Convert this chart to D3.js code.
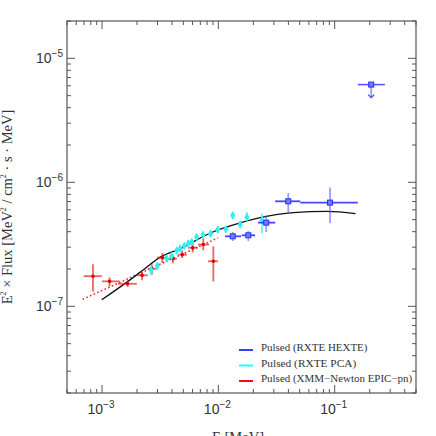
<!DOCTYPE html>
<html>
<head>
<meta charset="utf-8">
<script src="https://cdn.jsdelivr.net/npm/d3@7"></script>
<style>
  body { margin: 0; background: #fff; }
  svg { display: block; }
  .lbl { font-family: "Liberation Sans", Arial, sans-serif; fill: #333; }
  .ttl { font-family: "Liberation Serif", "DejaVu Serif", serif; fill: #333; }
</style>
</head>
<body>
<svg id="svg1" width="436" height="436"></svg>
<script>
// XMM-Newton EPIC-pn (red)
var redE   = [8.36e-4, 1.16e-3, 1.66e-3, 2.21e-3, 2.68e-3, 3.30e-3, 4.07e-3, 4.89e-3, 6.02e-3, 7.42e-3, 9.06e-3];
var redElo = [6.95e-4, 1.00e-3, 1.37e-3, 1.99e-3, 2.48e-3, 2.96e-3, 3.68e-3, 4.49e-3, 5.48e-3, 6.68e-3, 8.15e-3];
var redEhi = [9.94e-4, 1.42e-3, 1.99e-3, 2.48e-3, 2.96e-3, 3.61e-3, 4.40e-3, 5.37e-3, 6.68e-3, 8.32e-3, 9.94e-3];
var redF   = [1.75e-7, 1.59e-7, 1.52e-7, 1.78e-7, 2.01e-7, 2.47e-7, 2.42e-7, 2.61e-7, 2.97e-7, 3.15e-7, 2.31e-7];
var redFlo = [1.32e-7, 1.45e-7, 1.43e-7, 1.62e-7, 1.80e-7, 2.24e-7, 2.23e-7, 2.45e-7, 2.73e-7, 2.83e-7, 1.59e-7];
var redFhi = [2.18e-7, 1.71e-7, 1.62e-7, 1.88e-7, 2.18e-7, 2.69e-7, 2.59e-7, 2.83e-7, 3.22e-7, 3.53e-7, 3.05e-7];

// RXTE PCA (cyan)
var cyanE   = [2.65e-3, 2.99e-3, 3.59e-3, 3.96e-3, 4.38e-3, 4.68e-3, 5.09e-3, 5.51e-3, 5.90e-3, 6.51e-3, 7.38e-3, 8.57e-3, 9.88e-3, 1.16e-2, 1.33e-2, 1.54e-2, 1.76e-2, 2.37e-2];
var cyanF   = [1.95e-7, 2.12e-7, 2.43e-7, 2.55e-7, 2.81e-7, 2.92e-7, 3.07e-7, 3.21e-7, 3.30e-7, 3.62e-7, 3.77e-7, 3.86e-7, 4.16e-7, 4.18e-7, 5.42e-7, 4.58e-7, 5.25e-7, 4.94e-7];
var cyanFlo = [1.78e-7, 2.00e-7, 2.30e-7, 2.41e-7, 2.66e-7, 2.76e-7, 2.90e-7, 3.04e-7, 3.12e-7, 3.42e-7, 3.56e-7, 3.65e-7, 3.93e-7, 3.95e-7, 5.10e-7, 4.30e-7, 4.79e-7, 3.88e-7];
var cyanFhi = [2.14e-7, 2.25e-7, 2.57e-7, 2.70e-7, 2.97e-7, 3.09e-7, 3.25e-7, 3.40e-7, 3.49e-7, 3.83e-7, 3.99e-7, 4.08e-7, 4.40e-7, 4.42e-7, 5.75e-7, 4.86e-7, 5.76e-7, 5.62e-7];

// RXTE HEXTE (blue)
var blueE   = [1.33e-2, 1.81e-2, 2.58e-2, 3.99e-2, 9.12e-2];
var blueElo = [1.14e-2, 1.59e-2, 2.19e-2, 3.08e-2, 5.06e-2];
var blueEhi = [1.57e-2, 2.07e-2, 3.08e-2, 5.06e-2, 0.158];
var blueF   = [3.67e-7, 3.74e-7, 4.73e-7, 7.03e-7, 6.86e-7];
var blueFlo = [3.36e-7, 3.36e-7, 3.97e-7, 5.76e-7, 4.70e-7];
var blueFhi = [3.97e-7, 4.05e-7, 5.42e-7, 8.20e-7, 9.07e-7];
// HEXTE upper limit
var ulE = [0.206], ulElo = [0.158], ulEhi = [0.270], ulF = [6.14e-6];

// model curves
var curveE = [9.94e-4, 1.67e-3, 2.33e-3, 3.14e-3, 4.68e-3, 8.65e-3, 1.54e-2, 2.29e-2, 4.41e-2, 8.65e-2, 0.151];
var curveF = [1.13e-7, 1.59e-7, 2.01e-7, 2.48e-7, 2.91e-7, 3.92e-7, 4.71e-7, 5.19e-7, 5.70e-7, 5.83e-7, 5.60e-7];
var dotE = [6.82e-4, 9.94e-3];
var dotF = [1.14e-7, 3.56e-7];

var xTicks = [1e-3, 1e-2, 1e-1];
var yTicks = [1e-7, 1e-6, 1e-5];
var legendNames = ["Pulsed (RXTE HEXTE)", "Pulsed (RXTE PCA)", "Pulsed (XMM\u2212Newton EPIC\u2212pn)"];
var legendColors = ["#3344ff", "#22ffff", "#ee1111"];

var plotL = 67, plotR = 416, plotT = 21, plotB = 393;

var svg = d3.select('svg');

var x = d3.scaleLog().domain([5e-4, 0.5]).range([plotL, plotR]);
var y = d3.scaleLog().domain([2e-8, 2e-5]).range([plotB, plotT]);

var axisColor = '#555';

// ticks on all four sides, pointing inward
function tickList(scale) {
  var d = scale.domain(), out = [];
  scale.ticks().forEach(function(t){ if (t >= d[0] && t <= d[1]) out.push(t); });
  return out;
}
var xAll = tickList(x), yAll = tickList(y);
function isMajor(t) { return Math.abs(Math.log10(t) - Math.round(Math.log10(t))) < 1e-6; }

var g = svg.append('g');
xAll.forEach(function(t){
  var len = isMajor(t) ? 8 : 4;
  g.append('line').attr('x1', x(t)).attr('x2', x(t)).attr('y1', plotB).attr('y2', plotB - len)
    .attr('stroke', axisColor).attr('stroke-width', 1);
  g.append('line').attr('x1', x(t)).attr('x2', x(t)).attr('y1', plotT).attr('y2', plotT + len)
    .attr('stroke', axisColor).attr('stroke-width', 1);
});
yAll.forEach(function(t){
  var len = isMajor(t) ? 8 : 4;
  g.append('line').attr('y1', y(t)).attr('y2', y(t)).attr('x1', plotL).attr('x2', plotL + len)
    .attr('stroke', axisColor).attr('stroke-width', 1);
  g.append('line').attr('y1', y(t)).attr('y2', y(t)).attr('x1', plotR).attr('x2', plotR - len)
    .attr('stroke', axisColor).attr('stroke-width', 1);
});
g.append('rect').attr('x', plotL).attr('y', plotT).attr('width', plotR - plotL).attr('height', plotB - plotT)
  .attr('fill', 'none').attr('stroke', axisColor).attr('stroke-width', 1.2);

// tick labels 10^n
xTicks.forEach(function(t){
  var txt = svg.append('text').attr('class', 'lbl').attr('x', x(t) - 1).attr('y', 414)
    .attr('text-anchor', 'middle').attr('font-size', 14);
  txt.append('tspan').text('10');
  txt.append('tspan').attr('dy', -6).attr('font-size', 10).text('\u2212' + Math.round(-Math.log10(t)));
});
yTicks.forEach(function(t){
  var txt = svg.append('text').attr('class', 'lbl').attr('x', 63).attr('y', y(t) + 5)
    .attr('text-anchor', 'end').attr('font-size', 14);
  txt.append('tspan').text('10');
  txt.append('tspan').attr('dy', -6).attr('font-size', 10).text('\u2212' + Math.round(-Math.log10(t)));
});

// axis titles
var yt = svg.append('text').attr('class', 'ttl').attr('font-size', 14.5)
  .attr('text-anchor', 'middle')
  .attr('transform', 'translate(12,207) rotate(-90)');
yt.append('tspan').text('E');
yt.append('tspan').attr('dy', -6).attr('font-size', 8).text('2');
yt.append('tspan').attr('dy', 6).text(' \u00d7 Flux [MeV');
yt.append('tspan').attr('dy', -6).attr('font-size', 8).text('2');
yt.append('tspan').attr('dy', 6).text(' / cm');
yt.append('tspan').attr('dy', -6).attr('font-size', 8).text('2');
yt.append('tspan').attr('dy', 6).text(' \u00b7 s \u00b7 MeV]');

svg.append('text').attr('class', 'ttl').attr('font-size', 14.5).attr('x', 238).attr('y', 442)
  .attr('text-anchor', 'middle').text('E [MeV]');

// model lines
var line = d3.line()
  .x(function(d){ return x(d[0]); })
  .y(function(d){ return y(d[1]); })
  .curve(d3.curveMonotoneX);

svg.append('path')
  .datum(dotE.map(function(e, i){ return [e, dotF[i]]; }))
  .attr('d', line).attr('fill', 'none')
  .attr('stroke', '#ee2222').attr('stroke-width', 1.6)
  .attr('stroke-dasharray', '1.5,2.5');

svg.append('path')
  .datum(curveE.map(function(e, i){ return [e, curveF[i]]; }))
  .attr('d', line).attr('fill', 'none')
  .attr('stroke', '#111').attr('stroke-width', 1.3);

// error bar helper
function drawSeries(E, Elo, Ehi, F, Flo, Fhi, barColor, vColor) {
  var s = svg.append('g');
  E.forEach(function(e, i){
    if (Elo) {
      s.append('line').attr('x1', x(Elo[i])).attr('x2', x(Ehi[i])).attr('y1', y(F[i])).attr('y2', y(F[i]))
        .attr('stroke', barColor).attr('stroke-width', 1.8);
    }
    s.append('line').attr('x1', x(e)).attr('x2', x(e)).attr('y1', y(Flo[i])).attr('y2', y(Fhi[i]))
      .attr('stroke', vColor || barColor).attr('stroke-width', 1.8);
  });
  return s;
}

// XMM
var rs = drawSeries(redE, redElo, redEhi, redF, redFlo, redFhi, 'rgba(238,30,30,0.7)');
rs.selectAll('circle.pt').data(redE).enter().append('circle')
  .attr('cx', function(d){ return x(d); })
  .attr('cy', function(d, i){ return y(redF[i]); })
  .attr('r', 1.8).attr('fill', '#dd0000');

// PCA
var cs = drawSeries(cyanE, null, null, cyanF, cyanFlo, cyanFhi, 'rgba(40,240,240,0.7)');
cs.selectAll('path.pt').data(cyanE).enter().append('path')
  .attr('d', d3.symbol().type(d3.symbolDiamond).size(22))
  .attr('transform', function(d, i){ return 'translate(' + x(d) + ',' + y(cyanF[i]) + ')'; })
  .attr('fill', '#33f0f0');

// HEXTE
var bs = drawSeries(blueE, blueElo, blueEhi, blueF, blueFlo, blueFhi, 'rgba(50,50,255,0.9)', 'rgba(90,90,255,0.6)');
bs.selectAll('rect.pt').data(blueE).enter().append('rect')
  .attr('x', function(d){ return x(d) - 2.5; })
  .attr('y', function(d, i){ return y(blueF[i]) - 2.5; })
  .attr('width', 5).attr('height', 5)
  .attr('fill', '#7777ff').attr('stroke', '#2233ee').attr('stroke-width', 1);

// upper limit
ulE.forEach(function(e, i){
  var cx = x(e), cy = y(ulF[i]);
  svg.append('line').attr('x1', x(ulElo[i])).attr('x2', x(ulEhi[i])).attr('y1', cy).attr('y2', cy)
    .attr('stroke', 'rgba(50,50,255,0.85)').attr('stroke-width', 1.5);
  svg.append('line').attr('x1', cx).attr('x2', cx).attr('y1', cy).attr('y2', cy + 13)
    .attr('stroke', 'rgba(90,90,255,0.6)').attr('stroke-width', 1.8);
  svg.append('path').attr('d', 'M' + (cx - 3) + ',' + (cy + 10) + 'L' + cx + ',' + (cy + 13) + 'L' + (cx + 3) + ',' + (cy + 10))
    .attr('fill', 'none').attr('stroke', '#3344ff').attr('stroke-width', 1.2);
  svg.append('rect').attr('x', cx - 2.5).attr('y', cy - 2.5).attr('width', 5).attr('height', 5)
    .attr('fill', '#7777ff').attr('stroke', '#2233ee').attr('stroke-width', 1);
});

// legend
var leg = svg.append('g');
legendNames.forEach(function(name, i){
  var ly = 350 + i * 15.5;
  leg.append('line').attr('x1', 239).attr('x2', 253).attr('y1', ly).attr('y2', ly)
    .attr('stroke', legendColors[i]).attr('stroke-width', 2);
  leg.append('text').attr('class', 'ttl').attr('x', 261).attr('y', ly + 1)
    .attr('font-size', 9.6).attr('textLength', name.length * 5.6).attr('lengthAdjust', 'spacingAndGlyphs')
    .text(name);
});
</script>
</body>
</html>
